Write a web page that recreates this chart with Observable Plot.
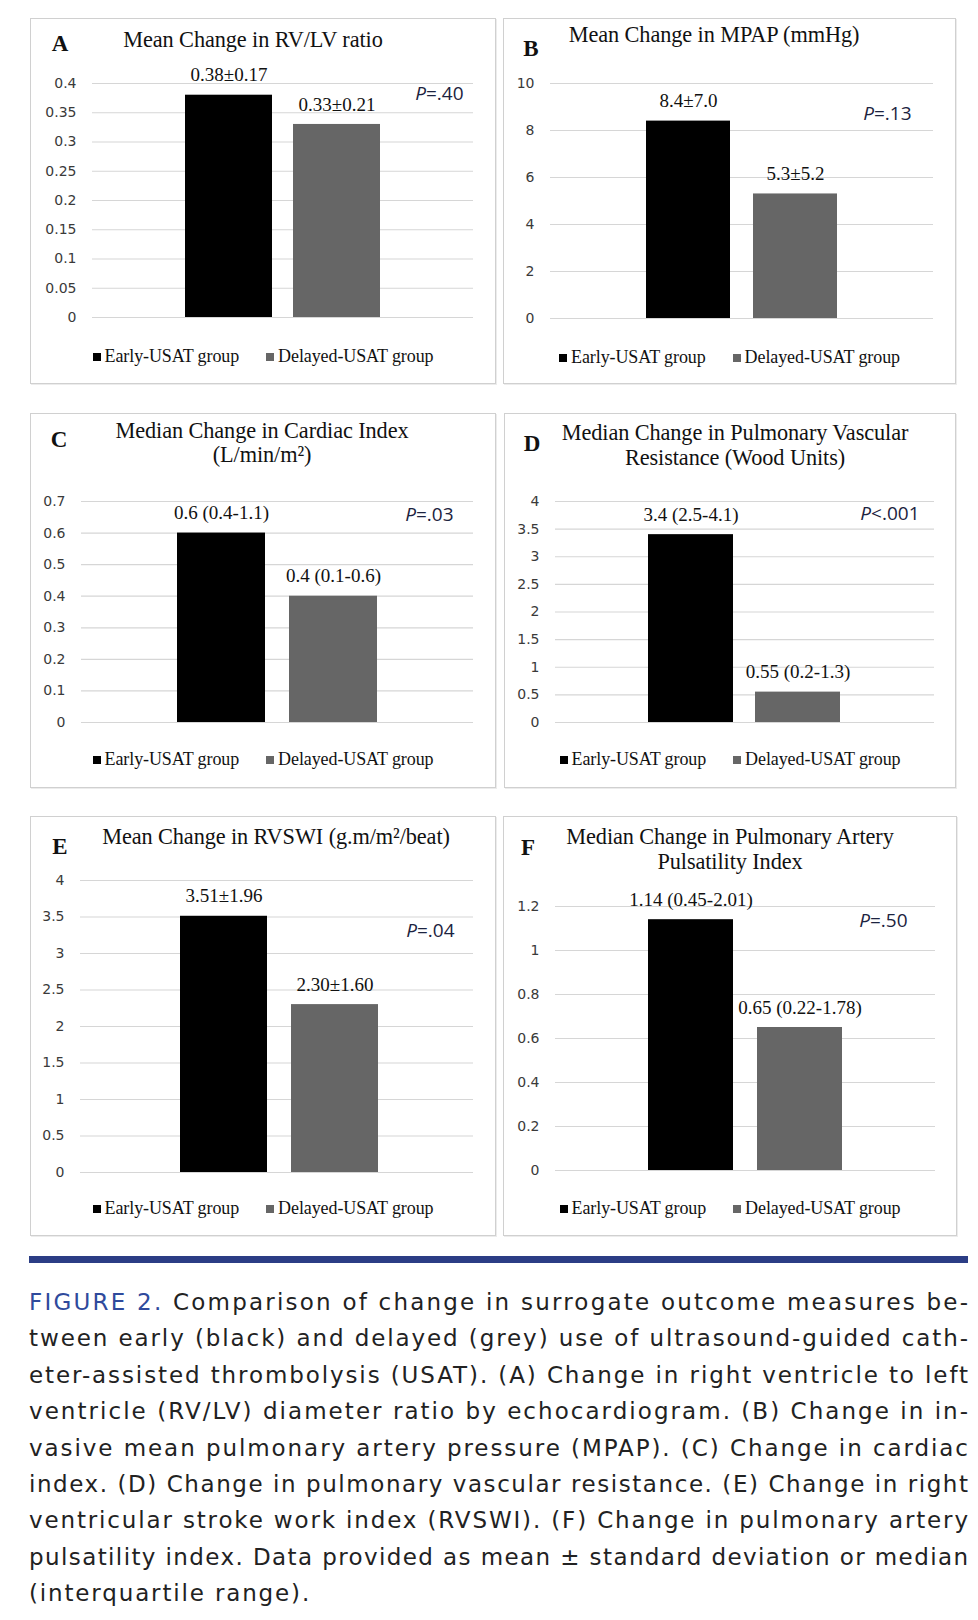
<!DOCTYPE html>
<html><head><meta charset="utf-8">
<script src="https://cdn.jsdelivr.net/npm/d3@7"></script>
<script src="https://cdn.jsdelivr.net/npm/@observablehq/plot@0.6"></script>
<style>
body{margin:0;background:#fff;}
#root{position:relative;width:978px;height:1620px;overflow:hidden;background:#fff;}
.panel{position:absolute;box-sizing:border-box;border:1.5px solid #d0d0d0;box-shadow:1px 1px 0 #ececec;background:#fff;}
.abs{position:absolute;white-space:nowrap;}
.letter{font-family:"Liberation Serif",serif;font-weight:bold;font-size:23px;color:#111;line-height:1;transform:translate(-50%,-50%);}
.title{font-family:"Liberation Serif",serif;font-size:22.3px;color:#111;line-height:1;transform:translate(-50%,-50%);letter-spacing:-0.1px;}
.legend{display:flex;justify-content:center;align-items:center;gap:27px;font-family:"Liberation Serif",serif;font-size:18px;color:#111;height:24px;line-height:24px;letter-spacing:-0.1px;}
.sw{display:inline-block;width:8px;height:8px;margin-right:4px;vertical-align:middle;position:relative;top:-1px;}
.cap{position:absolute;left:29px;font-family:"DejaVu Sans",sans-serif;font-size:23px;color:#222;line-height:36px;height:36px;white-space:nowrap;}
.fig{color:#2f4a9c;}
</style>
</head><body>
<div id="root"></div>
<script>
// ---------- data ----------
const panelIds = ["A","B","C","D","E","F"];
const titles = [
  ["Mean Change in RV/LV ratio"],
  ["Mean Change in MPAP (mmHg)"],
  ["Median Change in Cardiac Index","(L/min/m²)"],
  ["Median Change in Pulmonary Vascular","Resistance (Wood Units)"],
  ["Mean Change in RVSWI (g.m/m²/beat)"],
  ["Median Change in Pulmonary Artery","Pulsatility Index"]
];
const groups = ["Early-USAT group","Delayed-USAT group"];
const groupColors = ["#000000","#666666"];
const earlyValues = [0.38, 8.4, 0.6, 3.4, 3.51, 1.14];
const delayedValues = [0.33, 5.3, 0.4, 0.55, 2.30, 0.65];
const earlyLabels = ["0.38±0.17","8.4±7.0","0.6 (0.4-1.1)","3.4 (2.5-4.1)","3.51±1.96","1.14 (0.45-2.01)"];
const delayedLabels = ["0.33±0.21","5.3±5.2","0.4 (0.1-0.6)","0.55 (0.2-1.3)","2.30±1.60","0.65 (0.22-1.78)"];
const pValues = ["P=.40","P=.13","P=.03","P<.001","P=.04","P=.50"];
const yTicks = [
  [0,0.05,0.1,0.15,0.2,0.25,0.3,0.35,0.4],
  [0,2,4,6,8,10],
  [0,0.1,0.2,0.3,0.4,0.5,0.6,0.7],
  [0,0.5,1,1.5,2,2.5,3,3.5,4],
  [0,0.5,1,1.5,2,2.5,3,3.5,4],
  [0,0.2,0.4,0.6,0.8,1,1.2]
];
const captionLines = [
  ["FIGURE 2.", " Comparison of change in surrogate outcome measures be-"],
  ["", "tween early (black) and delayed (grey) use of ultrasound-guided cath-"],
  ["", "eter-assisted thrombolysis (USAT). (A) Change in right ventricle to left"],
  ["", "ventricle (RV/LV) diameter ratio by echocardiogram. (B) Change in in-"],
  ["", "vasive mean pulmonary artery pressure (MPAP). (C) Change in cardiac"],
  ["", "index. (D) Change in pulmonary vascular resistance. (E) Change in right"],
  ["", "ventricular stroke work index (RVSWI). (F) Change in pulmonary artery"],
  ["", "pulsatility index. Data provided as mean ± standard deviation or median"],
  ["", "(interquartile range)."]
];

// ---------- layout (page pixels) ----------
const layout = [
  {box:[30,18,496,384],  grid:[92,473,83,317],  bars:[174.5,390.5], pad:0.194, tcx:253, tys:[40],      letter:[60,43],  p:[463,93],  leg:356},
  {box:[503,18,956,384], grid:[550,933,83,318], bars:[634.5,849.5], pad:0.214, tcx:714, tys:[35],      letter:[531,48], p:[911,113], leg:357},
  {box:[30,413,496,788], grid:[81,473,501,722], bars:[165,389],     pad:0.214, tcx:262, tys:[431,455], letter:[59,439], p:[453,514], leg:759},
  {box:[504,413,956,788],grid:[555,934,501,722],bars:[637,852],     pad:0.205, tcx:735, tys:[433,458], letter:[532,443],p:[919,513], leg:759},
  {box:[30,816,496,1236],grid:[80,473,880,1172],bars:[166.7,390.3], pad:0.22,  tcx:276, tys:[837],     letter:[60,846], p:[454,930], leg:1208},
  {box:[503,816,957,1236],grid:[555,935,906,1170],bars:[636,854],   pad:0.22,  tcx:730, tys:[837,862], letter:[528,847],p:[907,920], leg:1208}
];

const root = document.getElementById("root");
function el(tag, cls, css, html){
  const e = document.createElement(tag);
  if (cls) e.className = cls;
  if (css) Object.assign(e.style, css);
  if (html != null) e.innerHTML = html;
  root.appendChild(e);
  return e;
}

panelIds.forEach((id, i) => {
  const L = layout[i];
  const [bx0, by0, bx1, by1] = L.box;
  const w = bx1 - bx0, h = by1 - by0;
  el("div", "panel", {left: bx0+"px", top: by0+"px", width: w+"px", height: h+"px"});

  const data = groups.map((g, j) => ({
    group: g,
    value: j === 0 ? earlyValues[i] : delayedValues[i],
    label: j === 0 ? earlyLabels[i] : delayedLabels[i]
  }));
  const ticks = yTicks[i];
  const svg = Plot.plot({
    width: w, height: h,
    marginLeft: L.grid[0] - bx0,
    marginRight: bx1 - L.grid[1],
    marginTop: L.grid[2] - by0,
    marginBottom: by1 - L.grid[3],
    style: {background: "transparent", overflow: "visible", color: "#3a3a3a"},
    x: {type: "band", domain: groups, range: [L.bars[0]-bx0, L.bars[1]-bx0], paddingInner: L.pad, paddingOuter: L.pad/2, axis: null},
    y: {domain: [0, d3.max(ticks)], axis: null},
    color: {domain: groups, range: groupColors},
    marks: [
      Plot.ruleY(ticks, {stroke: "#d6d6d6", strokeWidth: 1.2}),
      Plot.axisY({ticks: ticks, tickSize: 0, tickPadding: 16, tickFormat: d => String(d), label: null,
                  fontFamily: "DejaVu Sans", fontSize: 14, fill: "#3a3a3a"}),
      Plot.barY(data, {x: "group", y: "value", fill: "group"}),
      Plot.text(data, {x: "group", y: "value", text: "label", dy: -20,
                       fontFamily: "Liberation Serif", fontSize: 19, fill: "#111"}),
      Plot.text([pValues[i]], {text: d => d, frameAnchor: "top-right",
                       dx: L.p[0] - L.grid[1], dy: L.p[1] - L.grid[2],
                       textAnchor: "end", lineAnchor: "middle",
                       fontFamily: "Open Sans", fontSize: 19, fill: "#1c2340", className: "pval"})
    ]
  });
  svg.style.position = "absolute";
  svg.style.left = bx0 + "px";
  svg.style.top = by0 + "px";
  root.appendChild(svg);
  // italic P
  d3.select(svg).selectAll(".pval text").each(function(){
    const t = this.textContent;
    this.textContent = "";
    d3.select(this).append("tspan").attr("font-style","italic").text(t.charAt(0));
    d3.select(this).append("tspan").text(t.slice(1));
  });

  // letter and title
  el("div", "abs letter", {left: L.letter[0]+"px", top: L.letter[1]+"px"}, id);
  titles[i].forEach((line, k) => {
    el("div", "abs title", {left: L.tcx+"px", top: L.tys[k]+"px"}, line);
  });
  // legend
  const leg = el("div", "abs legend", {left: bx0+"px", width: w+"px", top: (L.leg-12)+"px"});
  leg.innerHTML = groups.map((g, j) =>
    `<span><span class="sw" style="background:${groupColors[j]}"></span>${g}</span>`).join("");
});

// caption
el("div", "abs", {left: "29px", top: "1256px", width: "939px", height: "7px", background: "#2b3d85"});
const capWidth = 939;
const capDivs = captionLines.map((ln, k) => {
  const d = el("div", "cap", {top: (1284 + k*36.4) + "px"});
  d.innerHTML = (ln[0] ? `<span class="fig">${ln[0]}</span>` : "") + ln[1];
  return d;
});
const spacings = [];
capDivs.forEach((d, k) => {
  if (k === capDivs.length - 1) return;
  const w0 = d.getBoundingClientRect().width;
  const n = d.textContent.length;
  const ls = (capWidth - w0) / (n - 1);
  spacings.push(ls);
  d.style.letterSpacing = ls + "px";
});
capDivs[capDivs.length-1].style.letterSpacing = d3.mean(spacings) + "px";
</script>
</body></html>
